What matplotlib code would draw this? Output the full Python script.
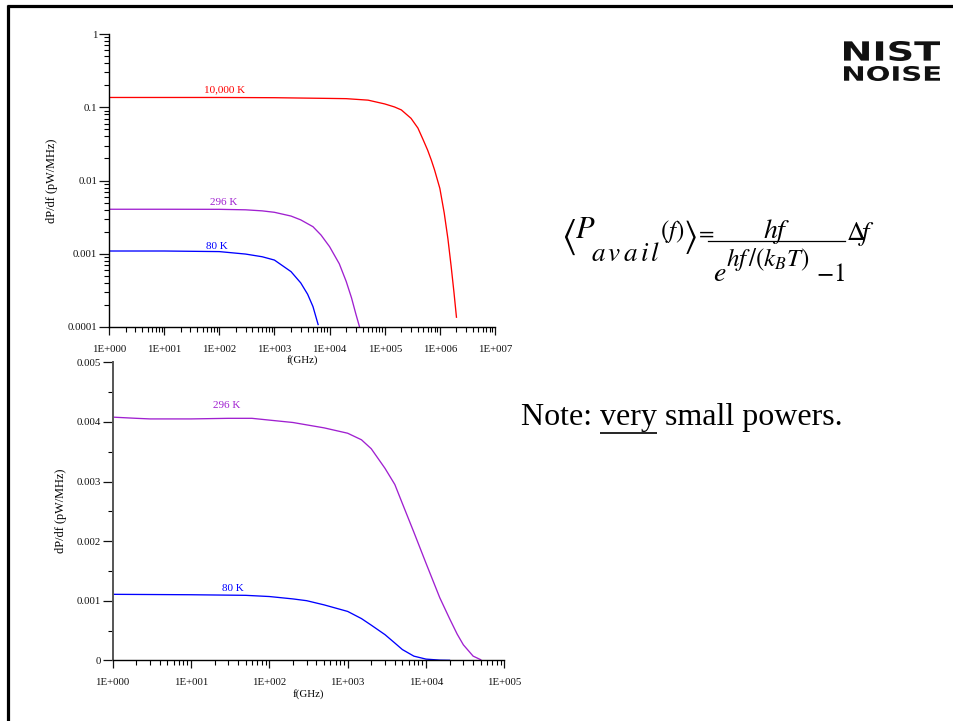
import matplotlib
matplotlib.use("Agg")
import matplotlib.pyplot as plt
from matplotlib.lines import Line2D
from matplotlib.textpath import TextPath
from matplotlib.patches import PathPatch
from matplotlib.font_manager import FontProperties
from matplotlib.transforms import Affine2D, IdentityTransform
import matplotlib.ticker as mticker
import numpy as np

plt.rcParams['font.family'] = ['Liberation Serif', 'DejaVu Serif']
plt.rcParams['mathtext.fontset'] = 'stix'

# ---------------- data ----------------
# top plot (log-log), frequency in GHz, dP/df in pW/MHz
top_f_10000 = [1, 10, 100, 1e3, 1e4, 2e4, 5e4, 1e5, 1.5e5, 2e5, 3e5, 4e5, 5e5, 6e5, 7e5,
               8e5, 1e6, 1.2e6, 1.4e6, 1.6e6, 1.8e6, 2e6]
top_p_10000 = [0.136, 0.136, 0.136, 0.135, 0.132, 0.131, 0.125, 0.111, 0.101, 0.092, 0.0706,
               0.052, 0.0357, 0.026, 0.019, 0.014, 0.0078, 0.0036, 0.0016, 0.00068, 0.00030,
               0.000136]
top_f_296 = [1, 10, 100, 300, 600, 1e3, 2e3, 3e3, 5e3, 7e3, 1e4, 1.5e4, 2e4, 2.5e4, 3e4, 3.5e4]
top_p_296 = [0.00405, 0.00405, 0.00404, 0.00398, 0.00385, 0.00368, 0.00327, 0.0029, 0.00234,
             0.0018, 0.00125, 0.00073, 0.00042, 0.00025, 0.00015, 0.000100]
top_f_80 = [1, 10, 100, 300, 600, 1e3, 2e3, 3e3, 4e3, 5e3, 6.2e3]
top_p_80 = [0.00109, 0.00109, 0.00107, 0.00099, 0.00091, 0.00082, 0.00057, 0.00040, 0.00028,
            0.00019, 0.000108]

# bottom plot (semilog x)
bot_f_296 = [1, 2, 3, 10, 30, 60, 100, 200, 300, 500, 1e3, 1.5e3, 2e3, 3e3, 4e3, 5e3, 7e3,
             1e4, 1.5e4, 2e4, 2.5e4, 3e4, 4e4, 5e4]
bot_p_296 = [0.00408, 0.00406, 0.00405, 0.00405, 0.00406, 0.00406, 0.00403, 0.00399, 0.00395,
             0.0039, 0.00381, 0.00370, 0.00355, 0.00322, 0.00295, 0.00263, 0.00215, 0.00163,
             0.00105, 0.00070, 0.00044, 0.00026, 0.00007, 0.00001]
bot_f_80 = [1, 10, 50, 100, 200, 300, 500, 1e3, 1.5e3, 2e3, 3e3, 4e3, 5e3, 7e3, 1e4, 1.5e4, 2e4]
bot_p_80 = [0.001107, 0.00110, 0.00109, 0.00107, 0.00103, 0.00100, 0.00093, 0.00082, 0.00070,
            0.00059, 0.00043, 0.00029, 0.00018, 0.00007, 0.00002, 0.000003, 0.0]

top_xticks = [1, 1e1, 1e2, 1e3, 1e4, 1e5, 1e6, 1e7]
top_xlabels = ['1E+000', '1E+001', '1E+002', '1E+003', '1E+004', '1E+005', '1E+006', '1E+007']
top_yticks = [1e-4, 1e-3, 1e-2, 1e-1, 1]
top_ylabels = ['0.0001', '0.001', '0.01', '0.1', '1']
bot_xticks = [1, 1e1, 1e2, 1e3, 1e4, 1e5]
bot_xlabels = ['1E+000', '1E+001', '1E+002', '1E+003', '1E+004', '1E+005']
bot_yticks = [0, 0.001, 0.002, 0.003, 0.004, 0.005]
bot_ylabels = ['0', '0.001', '0.002', '0.003', '0.004', '0.005']

RED = '#ff0000'
PURPLE = '#a020d0'
BLUE = '#0000ff'

W, H = 954, 721
fig = plt.figure(figsize=(W / 100, H / 100), dpi=100)


def fx(px):
    return px / W


def fy(py):
    return 1 - py / H


def style(ax):
    for s in ['top', 'right']:
        ax.spines[s].set_visible(False)
    ax.spines['left'].set_linewidth(1.0)
    ax.spines['bottom'].set_linewidth(1.0)
    ax.tick_params(axis='y', which='major', direction='out', length=7, width=0.9,
                   labelsize=7.8, pad=1.5, colors='#111111')
    ax.tick_params(axis='y', which='minor', direction='out', length=3.5, width=0.8)
    ax.tick_params(axis='x', which='major', direction='out', length=6, width=0.9,
                   labelsize=7.8, pad=7, colors='#111111')
    ax.tick_params(axis='x', which='minor', direction='out', length=3.5, width=0.8)
    ax.patch.set_alpha(0)


LW = 0.95

# ---- top axes ----
ax1 = fig.add_axes([fx(109), fy(327), fx(495) - fx(109), fy(34) - fy(327)])
ax1.plot(top_f_10000, top_p_10000, color=RED, lw=LW)
ax1.plot(top_f_296, top_p_296, color=PURPLE, lw=LW)
ax1.plot(top_f_80, top_p_80, color=BLUE, lw=LW)
ax1.set_xscale('log')
ax1.set_yscale('log')
ax1.set_xlim(1, 1e7)
ax1.set_ylim(1e-4, 1)
ax1.set_xticks(top_xticks, labels=top_xlabels)
ax1.set_yticks(top_yticks, labels=top_ylabels)
ax1.xaxis.set_minor_locator(mticker.LogLocator(base=10, subs=np.arange(2, 10), numticks=20))
ax1.yaxis.set_minor_locator(mticker.LogLocator(base=10, subs=np.arange(2, 10), numticks=20))
ax1.xaxis.set_minor_formatter(mticker.NullFormatter())
ax1.yaxis.set_minor_formatter(mticker.NullFormatter())
style(ax1)
ax1.set_xlabel('f(GHz)', fontsize=7.8, labelpad=1)
ax1.set_ylabel('dP/df (pW/MHz)', fontsize=8.8, labelpad=7)
ax1.text(127, 0.172, '10,000 K', color=RED, fontsize=8, ha='center', va='center')
ax1.text(122, 0.00493, '296 K', color=PURPLE, fontsize=8, ha='center', va='center')
ax1.text(91, 0.00124, '80 K', color=BLUE, fontsize=8, ha='center', va='center')

# ---- bottom axes ----
ax2 = fig.add_axes([fx(112.7), fy(660.3), fx(504.3) - fx(112.7), fy(362.3) - fy(660.3)])
ax2.plot(bot_f_296, bot_p_296, color=PURPLE, lw=LW)
ax2.plot(bot_f_80, bot_p_80, color=BLUE, lw=LW)
ax2.set_xscale('log')
ax2.set_xlim(1, 1e5)
ax2.set_ylim(0, 0.005)
ax2.set_xticks(bot_xticks, labels=bot_xlabels)
ax2.set_yticks(bot_yticks, labels=bot_ylabels)
ax2.xaxis.set_minor_locator(mticker.LogLocator(base=10, subs=np.arange(2, 10), numticks=20))
ax2.xaxis.set_minor_formatter(mticker.NullFormatter())
ax2.yaxis.set_minor_locator(mticker.MultipleLocator(0.0005))
style(ax2)
ax2.spines['left'].set_color('#555555')
ax2.spines['left'].set_linewidth(1.4)
ax2.set_xlabel('f(GHz)', fontsize=7.8, labelpad=1)
ax2.set_ylabel('dP/df (pW/MHz)', fontsize=8.8, labelpad=7)
ax2.text(28.8, 0.00427, '296 K', color=PURPLE, fontsize=8, ha='center', va='center')
ax2.text(34.4, 0.00121, '80 K', color=BLUE, fontsize=8, ha='center', va='center')

# ---- slide border ----
fig.add_artist(Line2D([fx(8.5), fx(8.5)], [0, fy(5.0)], transform=fig.transFigure,
                      color='black', lw=2.3, solid_capstyle='butt'))
fig.add_artist(Line2D([fx(7.5), 1], [fy(6), fy(6)], transform=fig.transFigure,
                      color='black', lw=2.3, solid_capstyle='butt'))


# ---- equation, built piece by piece ----
def eq(px, py, s, fs, va='baseline'):
    fig.text(fx(px), fy(py), s, fontsize=fs, ha='left', va=va)


eq(561, 237, r'$\langle$', 28, va='center')
eq(575, 238, r'$P$', 22)
eq(591, 261, r'$a\/v\/a\/i\/l$', 19.5)
eq(660, 238, r'$(f)$', 18)
eq(683, 237, r'$\rangle$', 26, va='center')
eq(695, 239, r'$=$', 16)
fig.add_artist(Line2D([fx(708), fx(845)], [fy(241), fy(241)], transform=fig.transFigure,
                      color='black', lw=0.9))
eq(763, 238, r'$hf$', 20)
eq(713, 281, r'$e$', 20)
eq(726, 266, r'$hf\,/(k_{B}T)$', 18)
eq(816, 281, r'$-1$', 18)
eq(846, 240, r'$\mathit{\Delta}\!f$', 19)

# ---- note with underlined word ----
fig.canvas.draw()
renderer = fig.canvas.get_renderer()
x0 = fx(521)
ybase = fy(425)
parts = [('Note: ', False), ('very', True), (' small powers.', False)]
cur = x0
for txt, ul in parts:
    t = fig.text(cur, ybase, txt, fontsize=23, ha='left', va='baseline')
    bb = t.get_window_extent(renderer)
    wfrac = bb.width / W
    if ul:
        fig.add_artist(Line2D([cur, cur + wfrac], [ybase - 8 / H, ybase - 8 / H],
                              transform=fig.transFigure, color='black', lw=1.2,
                              solid_capstyle='butt'))
    cur = cur + wfrac


# ---- logo, text fitted to a box ----
def boxed_text(s, x0p, x1p, y0p, y1p):
    tp = TextPath((0, 0), s, size=10, prop=FontProperties(family='DejaVu Sans', weight='bold'))
    ext = tp.get_extents()
    sx = (x1p - x0p) / ext.width
    sy = (y1p - y0p) / ext.height
    tr = Affine2D().translate(-ext.x0, -ext.y0).scale(sx, sy).translate(x0p, H - y1p)
    patch = PathPatch(tr.transform_path(tp), facecolor='#111111', edgecolor='none',
                      transform=IdentityTransform())
    fig.add_artist(patch)


boxed_text('NIST', 844, 940, 41, 61)
boxed_text('NOISE', 844, 940, 66, 81)

fig.savefig('out.png', dpi=100)
